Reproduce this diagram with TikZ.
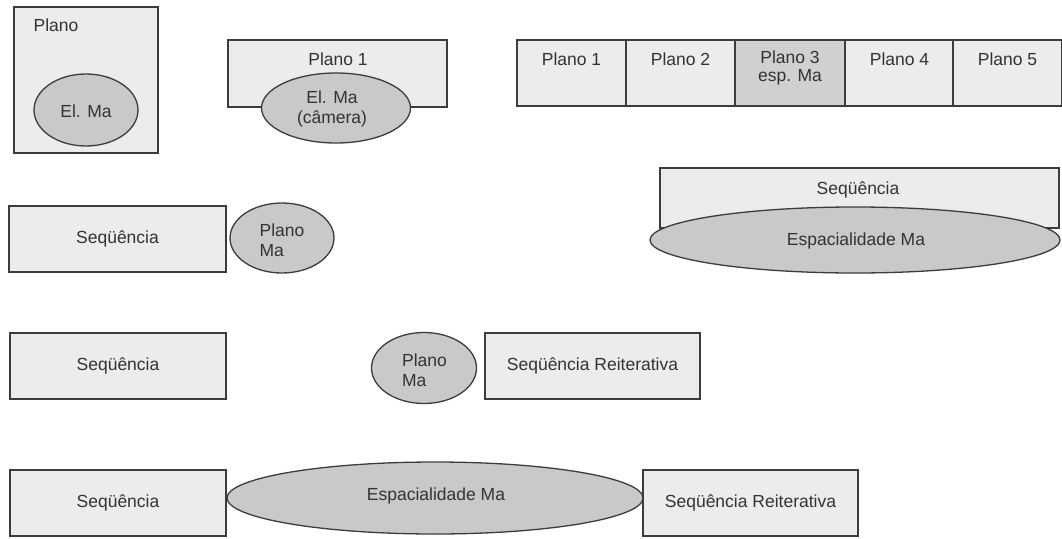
\documentclass[tikz,border=0pt]{standalone}
\usepackage{fontspec}
\setmainfont{Liberation Sans}
\usetikzlibrary{shapes.geometric}
\definecolor{boxfill}{HTML}{ECECEC}
\definecolor{ellfill}{HTML}{C9C9C9}
\definecolor{darkfill}{HTML}{D0D0D0}
\definecolor{edge}{HTML}{3C3C3C}
\definecolor{txt}{HTML}{333333}
\begin{document}
\begin{tikzpicture}[x=1pt,y=-1pt,
  box/.style={rectangle,draw=edge,fill=boxfill,line width=1.3pt,inner sep=0pt},
  ell/.style={ellipse,draw=edge,fill=ellfill,line width=1.3pt,inner sep=0pt},
  lbl/.style={text=txt,font=\fontsize{17.5}{20}\selectfont,align=center,inner sep=0pt},
  every node/.append style={text=txt,font=\fontsize{17.5}{20}\selectfont}]
\useasboundingbox (0,0) rectangle (1062,538);
\fill[white] (0,0) rectangle (1062,538);

% Panel 1
\node[box,minimum width=144pt,minimum height=146pt] (b1) at (86,80) {};
\node[lbl] (b1t) at (56,25) {Plano};
\node[ell,minimum width=104pt,minimum height=72pt] (e1) at (86,110) {};
\node[lbl] (e1t) at (86,111) {El. Ma};

% Panel 2
\node[box,minimum width=219pt,minimum height=67pt] (b2) at (337.5,73.5) {};
\node[lbl] (b2t) at (338,59) {Plano 1};
\node[ell,minimum width=149pt,minimum height=70pt] (e2) at (336,108) {};
\node[lbl] (e2t) at (332,109) {El. Ma\\(câmera)};

% Panel 3: row of planos
\foreach \i/\c/\f in {1/571.5/boxfill,2/680.5/boxfill,3/790/darkfill,4/899.5/boxfill,5/1007.5/boxfill}{
  \node[box,fill=\f,minimum width=109pt,minimum height=66pt] (p\i) at (\c,73) {};
}
\node[lbl] (p1t) at (p1.center |- 0,59) {Plano 1};
\node[lbl] (p2t) at (p2.center |- 0,59) {Plano 2};
\node[lbl] (p3t) at (p3.center |- 0,68) {Plano 3\\[-1.5pt]esp. Ma};
\node[lbl] (p4t) at (p4.center |- 0,59) {Plano 4};
\node[lbl] (p5t) at (p5.center |- 0,59) {Plano 5};

% Panel 4 (top right)
\node[box,minimum width=399pt,minimum height=60pt] (b3) at (859.5,198) {};
\node[lbl] (b3t) at (858,190) {Seqüência};
\node[ell,minimum width=410pt,minimum height=66pt] (e3) at (855,240) {};
\node[lbl] (e3t) at (856,241) {Espacialidade Ma};

% Row 2
\node[box,minimum width=217pt,minimum height=66pt] (r2b) at (117.5,239) {};
\node[lbl] (r2bt) at (r2b.center) {Seqüência};
\node[ell,minimum width=104pt,minimum height=70pt] (r2e) at (282,238) {};
\node[lbl,align=left] (r2et) at (282,240) {Plano\\Ma};

% Row 3
\node[box,minimum width=216pt,minimum height=66pt] (r3b) at (118,366) {};
\node[lbl] (r3bt) at (r3b.center) {Seqüência};
\node[ell,minimum width=105pt,minimum height=71pt] (r3e) at (424,368) {};
\node[lbl,align=left] (r3et) at (424.5,370) {Plano\\Ma};
\node[box,minimum width=215pt,minimum height=66pt] (r3r) at (592.5,366) {};
\node[lbl] (r3rt) at (r3r.center) {Seqüência Reiterativa};

% Row 4
\node[box,minimum width=216pt,minimum height=66pt] (r4b) at (118,503) {};
\node[lbl] (r4bt) at (r4b.center) {Seqüência};
\node[ell,minimum width=416pt,minimum height=72pt] (r4e) at (435,498) {};
\node[lbl] (r4et) at (436,496) {Espacialidade Ma};
\node[box,minimum width=215pt,minimum height=66pt] (r4r) at (750.5,503) {};
\node[lbl] (r4rt) at (r4r.center) {Seqüência Reiterativa};
\end{tikzpicture}
\end{document}
